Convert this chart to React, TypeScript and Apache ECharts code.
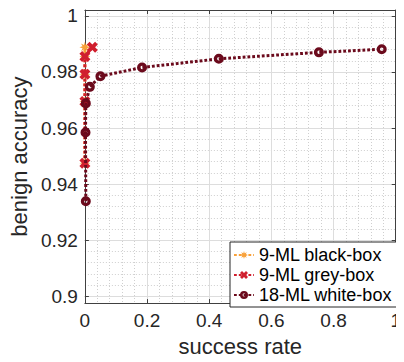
import React, { useEffect, useRef } from "react";
import * as echarts from "echarts";

const seriesNames = ["9-ML black-box", "9-ML grey-box", "18-ML white-box"];
const blackX = [0, 0, 0, 0, 0];
const blackY = [0.9475, 0.9695, 0.9792, 0.9855, 0.9888];
const greyX = [0, 0, 0, 0, 0.024];
const greyY = [0.9475, 0.9695, 0.9792, 0.9855, 0.9888];
const whiteX = [0.003, 0.002, 0.003, 0.016, 0.05, 0.184, 0.431, 0.753, 0.955];
const whiteY = [0.9339, 0.9584, 0.9688, 0.9747, 0.9785, 0.9816, 0.9847, 0.987, 0.9881];
const xTicks = [0, 0.2, 0.4, 0.6, 0.8, 1];
const yTicks = [0.9, 0.92, 0.94, 0.96, 0.98, 1];
const xTickLabels = ["0", "0.2", "0.4", "0.6", "0.8", "1"];
const yTickLabels = ["0.9", "0.92", "0.94", "0.96", "0.98", "1"];

const X_MIN = 0, X_MAX = 1;
const Y_MIN = 0.8976, Y_MAX = 1.0021;

const colors = ["#F8A13A", "#D01F2E", "#6B0A1C"];
const FONT = "Liberation Sans, Arial, Helvetica, sans-serif";
const AX = "#404040";
const TXT = "#262626";

function minorValues(lo: number, hi: number, step: number): number[] {
  const out: number[] = [];
  const start = Math.ceil(lo / step - 1e-9);
  for (let k = start; k * step <= hi + 1e-12; k++) out.push(+(k * step).toFixed(6));
  return out;
}

function starPath(n: number, rOut: number, rIn: number): string {
  const pts: string[] = [];
  for (let i = 0; i < 2 * n; i++) {
    const r = i % 2 === 0 ? rOut : rIn;
    const a = (Math.PI * i) / n - Math.PI / 2;
    pts.push(`${(10 + r * Math.cos(a)).toFixed(2)},${(10 + r * Math.sin(a)).toFixed(2)}`);
  }
  return "path://M" + pts.join(" L") + " Z";
}
const asteriskSymbol = starPath(8, 10, 4.5);
const crossSymbol = "path://M0,2.5 L2.5,0 L5,2.5 L7.5,0 L10,2.5 L7.5,5 L10,7.5 L7.5,10 L5,7.5 L2.5,10 L0,7.5 L2.5,5 Z";
const ringSymbol =
  "path://M10,0 A10,10 0 1,1 10,20 A10,10 0 1,1 10,0 Z M10,6.5 A3.5,3.5 0 1,0 10,13.5 A3.5,3.5 0 1,0 10,6.5 Z";

const pair = (xs: number[], ys: number[]) => xs.map((x, i) => [x, ys[i]]);

export default function App() {
  const ref = useRef<HTMLDivElement>(null);
  useEffect(() => {
    if (!ref.current) return;
    const chart = echarts.init(ref.current, null, { renderer: "svg" });
    const xMinor = minorValues(X_MIN, X_MAX, 0.04);
    const yMinor = minorValues(Y_MIN, Y_MAX, 0.004);
    const hidden = { show: false };
    const lineStyle = (c: string) => ({ color: c, width: 3, type: [2.8, 2] as number[] });
    chart.setOption({
      animation: false,
      textStyle: { fontFamily: FONT },
      grid: { left: 84, right: 3, top: 10, bottom: 49, containLabel: false },
      xAxis: [
        {
          type: "value", min: X_MIN, max: X_MAX, position: "bottom",
          axisLine: hidden, axisLabel: { show: false, customValues: xMinor },
          axisTick: { show: false, customValues: xMinor },
          splitLine: { show: true, lineStyle: { color: "#cfcfcf", type: [1, 2], width: 1 } },
        },
        {
          type: "value", min: X_MIN, max: X_MAX, position: "bottom",
          name: "success rate", nameLocation: "middle", nameGap: 24,
          nameTextStyle: { fontSize: 22, color: TXT, fontFamily: FONT },
          axisLine: { show: true, onZero: false, lineStyle: { color: AX, width: 1 } },
          axisTick: { show: true, inside: true, length: 4, customValues: xTicks, lineStyle: { color: AX } },
          axisLabel: {
            show: true, customValues: xTicks, fontSize: 19, color: TXT, margin: 8, fontFamily: FONT,
            formatter: (v: number) => xTickLabels[xTicks.findIndex((t) => Math.abs(t - v) < 1e-9)] ?? "",
          },
          splitLine: { show: true, lineStyle: { color: "#dddddd", width: 1 } },
        },
        {
          type: "value", min: X_MIN, max: X_MAX, position: "top",
          axisLine: { show: true, onZero: false, lineStyle: { color: AX, width: 1 } },
          axisTick: { show: true, inside: true, length: 4, customValues: xTicks, lineStyle: { color: AX } },
          axisLabel: { show: false, customValues: xTicks },
          splitLine: hidden,
        },
      ],
      yAxis: [
        {
          type: "value", min: Y_MIN, max: Y_MAX, position: "left",
          axisLine: hidden, axisLabel: { show: false, customValues: yMinor },
          axisTick: { show: false, customValues: yMinor },
          splitLine: { show: true, lineStyle: { color: "#cfcfcf", type: [1, 2], width: 1 } },
        },
        {
          type: "value", min: Y_MIN, max: Y_MAX, position: "left",
          name: "benign accuracy", nameLocation: "middle", nameGap: 46,
          nameTextStyle: { fontSize: 22, color: TXT, fontFamily: FONT },
          axisLine: { show: true, onZero: false, lineStyle: { color: AX, width: 1 } },
          axisTick: { show: true, inside: true, length: 4, customValues: yTicks, lineStyle: { color: AX } },
          axisLabel: {
            show: true, customValues: yTicks, fontSize: 19, color: TXT, margin: 7, fontFamily: FONT,
            formatter: (v: number) => yTickLabels[yTicks.findIndex((t) => Math.abs(t - v) < 1e-9)] ?? "",
          },
          splitLine: { show: true, lineStyle: { color: "#dddddd", width: 1 } },
        },
        {
          type: "value", min: Y_MIN, max: Y_MAX, position: "right",
          axisLine: { show: true, onZero: false, lineStyle: { color: AX, width: 1 } },
          axisTick: { show: true, inside: true, length: 4, customValues: yTicks, lineStyle: { color: AX } },
          axisLabel: { show: false, customValues: yTicks },
          splitLine: hidden,
        },
      ],
      legend: {
        left: 230, top: 242, orient: "vertical",
        padding: [4, 5, 3, 3], itemGap: 2, itemWidth: 20, itemHeight: 10,
        borderColor: "#262626", borderWidth: 1, borderRadius: 0, backgroundColor: "#ffffff",
        textStyle: { fontSize: 18, color: "#000", fontFamily: FONT },
        data: seriesNames,
      },
      series: [
        {
          name: seriesNames[0], type: "line", xAxisIndex: 1, yAxisIndex: 1,
          data: pair(blackX, blackY), color: colors[0],
          symbol: asteriskSymbol, symbolSize: 11, showAllSymbol: true,
          lineStyle: lineStyle(colors[0]), itemStyle: { color: colors[0] }, z: 3,
        },
        {
          name: seriesNames[1], type: "line", xAxisIndex: 1, yAxisIndex: 1,
          data: pair(greyX, greyY), color: colors[1],
          symbol: crossSymbol, symbolSize: 11, showAllSymbol: true,
          lineStyle: lineStyle(colors[1]), itemStyle: { color: colors[1] }, z: 4,
        },
        {
          name: seriesNames[2], type: "line", xAxisIndex: 1, yAxisIndex: 1,
          data: pair(whiteX, whiteY), color: colors[2],
          symbol: ringSymbol, symbolSize: 10, showAllSymbol: true,
          lineStyle: lineStyle(colors[2]),
          itemStyle: { color: colors[2] }, z: 5,
        },
      ],
    });
    return () => chart.dispose();
  }, []);
  return <div ref={ref} style={{ width: 404, height: 362, margin: -8, background: "#fff" }} />;
}
